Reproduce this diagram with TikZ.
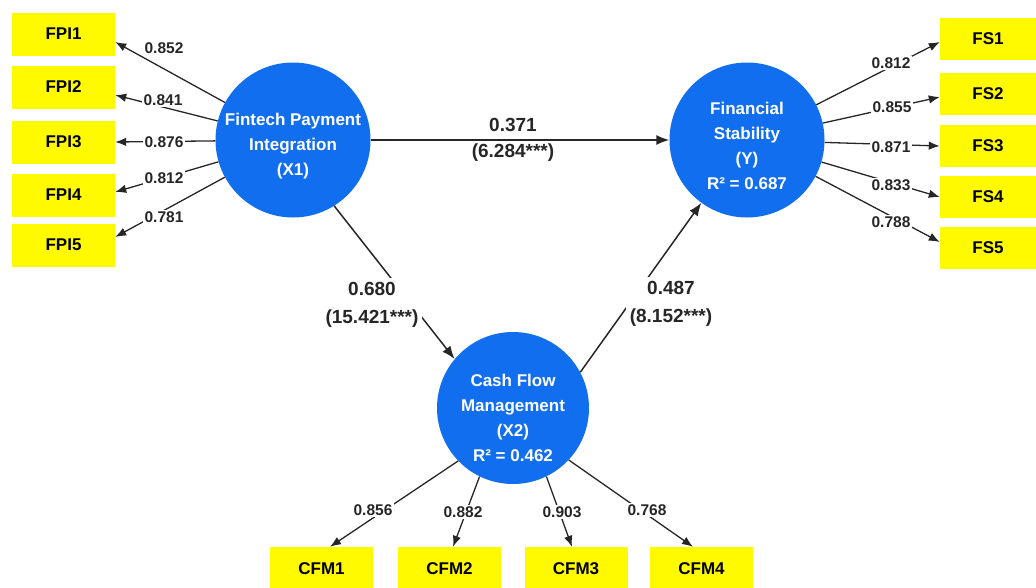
\documentclass[tikz,border=0pt]{standalone}
\usepackage{fontspec}
\setmainfont{Liberation Sans}
\usetikzlibrary{arrows.meta}
\definecolor{boxyellow}{RGB}{255,250,0}
\definecolor{circblue}{RGB}{17,110,238}
\definecolor{inkgray}{RGB}{38,38,38}
\begin{document}
\begin{tikzpicture}[x=1pt,y=-1pt,
  ind/.style={fill=boxyellow, minimum width=103pt, minimum height=43pt, inner sep=0pt, font=\fontsize{17}{20}\selectfont\bfseries, text=black},
  lat/.style={circle, fill=circblue, minimum size=155pt, inner sep=0pt},
  lattext/.style={text=white, align=center, inner sep=0pt, font=\fontsize{17}{25}\selectfont\bfseries},
  ld/.style={draw=inkgray, line width=1.3pt, -{Latex[length=11pt,width=8.5pt]}},
  pth/.style={draw=inkgray, line width=1.5pt, -{Latex[length=13pt,width=10pt]}},
  ldlab/.style={fill=white, inner sep=1.5pt, text=inkgray, font=\fontsize{15.5}{18}\selectfont\bfseries},
  pthlab/.style={fill=white, inner sep=4pt, text=inkgray, align=center, font=\fontsize{19}{28}\selectfont\bfseries},
  pthtxt/.style={inner sep=0pt, text=inkgray, font=\fontsize{19}{22}\selectfont\bfseries}
]
\useasboundingbox (0,0) rectangle (1036,587);

% indicator boxes
\node[ind] (fpi1) at (63.5,34) {FPI1};
\node[ind] (fpi2) at (63.5,87) {FPI2};
\node[ind] (fpi3) at (63.5,142) {FPI3};
\node[ind] (fpi4) at (63.5,195) {FPI4};
\node[ind] (fpi5) at (63.5,245) {FPI5};

\node[ind, minimum width=96pt, minimum height=42pt] (fs1) at (988,39) {FS1};
\node[ind, minimum width=96pt, minimum height=42pt] (fs2) at (988,94) {FS2};
\node[ind, minimum width=96pt, minimum height=42pt] (fs3) at (988,146) {FS3};
\node[ind, minimum width=96pt, minimum height=42pt] (fs4) at (988,197) {FS4};
\node[ind, minimum width=96pt, minimum height=42pt] (fs5) at (988,248) {FS5};

\node[ind, minimum height=44pt] (cfm1) at (321.5,569) {CFM1};
\node[ind, minimum height=44pt] (cfm2) at (449.5,569) {CFM2};
\node[ind, minimum height=44pt] (cfm3) at (576,569) {CFM3};
\node[ind, minimum height=44pt] (cfm4) at (701.5,569) {CFM4};

% latent variables
\node[lat] (x1) at (293,140) {};
\node[lat] (y) at (747,140) {};
\node[lat, minimum size=152pt] (x2) at (513,408) {};
\node[lattext] (x1t) at (293,146) {Fintech Payment\\Integration\\(X1)};
\node[lattext] (yt) at (747,146) {Financial\\Stability\\(Y)\\R² = 0.687};
\node[lattext] (x2t) at (513,418) {Cash Flow\\Management\\(X2)\\R² = 0.462};

% outer loadings
\draw[ld] (x1) -- ([yshift=-8pt]fpi1.east);
\draw[ld] (x1) -- ([yshift=-8pt]fpi2.east);
\draw[ld] (x1) -- (fpi3.east);
\draw[ld] (x1) -- ([yshift=3pt]fpi4.east);
\draw[ld] (x1) -- ([yshift=8pt]fpi5.east);

\draw[ld] (y) -- ([yshift=-3pt]fs1.west);
\draw[ld] (y) -- ([yshift=-3pt]fs2.west);
\draw[ld] (y) -- (fs3.west);
\draw[ld] (y) -- (fs4.west);
\draw[ld] (y) -- ([yshift=6pt]fs5.west);

\draw[ld] (x2.224) -- ([xshift=8.5pt]cfm1.north);
\draw[ld] (x2.244) -- ([xshift=3.5pt]cfm2.north);
\draw[ld] (x2.296) -- ([xshift=-4pt]cfm3.north);
\draw[ld] (x2.317) -- ([xshift=-8.5pt]cfm4.north);

\node[ldlab] (l1) at (164,48) {0.852};
\node[ldlab] (l2) at (163,100) {0.841};
\node[ldlab] (l3) at (164,142) {0.876};
\node[ldlab] (l4) at (164,178) {0.812};
\node[ldlab] (l5) at (164,217) {0.781};

\node[ldlab] (m1) at (891,63) {0.812};
\node[ldlab] (m2) at (892,107) {0.855};
\node[ldlab] (m3) at (891,147) {0.871};
\node[ldlab] (m4) at (891,185) {0.833};
\node[ldlab] (m5) at (891,222) {0.788};

\node[ldlab] (c1) at (373,510) {0.856};
\node[ldlab] (c2) at (463,512) {0.882};
\node[ldlab] (c3) at (562,512) {0.903};
\node[ldlab] (c4) at (647,510) {0.768};

% structural paths
\draw[pth] (x1) -- (y);
\node[pthtxt] (p1a) at (513,125) {0.371};
\node[pthtxt] (p1b) at (513,153) {(6.284***)};

\draw[pth] (x1.-58) -- (x2.140);
\node[pthlab] (p2) at (372,305) {0.680\\(15.421***)};

\draw[pth] (x2.28) -- (y.234);
\node[pthlab] (p3) at (671,304) {0.487\\(8.152***)};
\end{tikzpicture}
\end{document}
